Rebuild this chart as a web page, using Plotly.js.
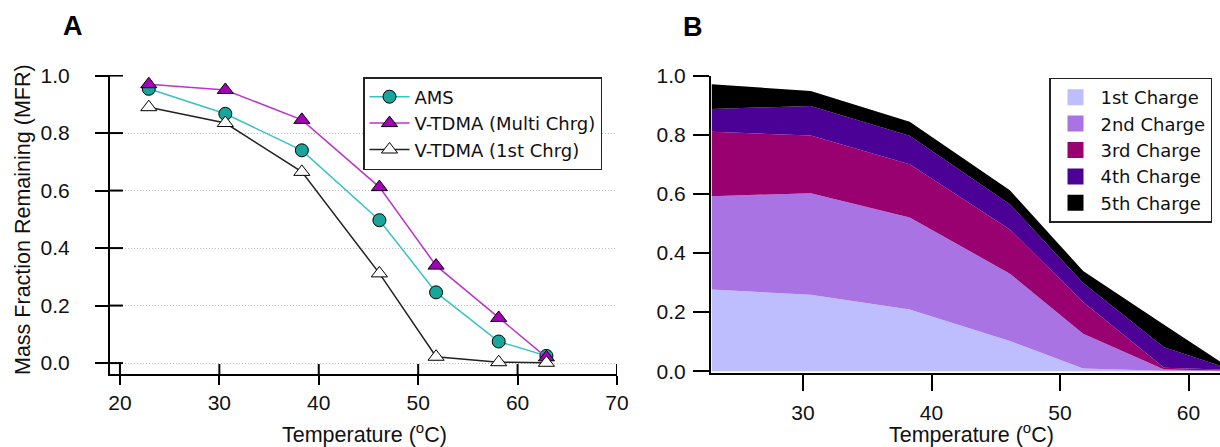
<!DOCTYPE html>
<html>
<head>
<meta charset="utf-8">
<script src="https://cdn.plot.ly/plotly-3.0.1.min.js"></script>
<style>html,body{margin:0;padding:0;background:#fff;}#chart{width:1220px;height:447px;}</style>
</head>
<body>
<div id="chart"></div>
<script>
// ---- Data ----
const tempC = [22.9, 30.6, 38.3, 46.1, 51.8, 58.1, 62.9];
const amsMFR = [0.954, 0.867, 0.740, 0.497, 0.246, 0.075, 0.025];
const vtdmaMulti = [0.970, 0.950, 0.846, 0.612, 0.339, 0.157, 0.020];
const vtdmaFirst = [0.890, 0.835, 0.665, 0.312, 0.022, 0.003, 0.001];

const charge1 = [0.276, 0.259, 0.209, 0.102, 0.009, 0.002, 0.001];
const charge2 = [0.316, 0.343, 0.311, 0.228, 0.118, 0.004, 0.001];
const charge3 = [0.218, 0.195, 0.180, 0.149, 0.107, 0.006, 0.003];
const charge4 = [0.077, 0.100, 0.096, 0.086, 0.064, 0.069, 0.007];
const charge5 = [0.083, 0.051, 0.048, 0.047, 0.041, 0.076, 0.008];

const seriesA = ['AMS', 'V-TDMA (Multi Chrg)', 'V-TDMA (1st Chrg)'];
const chargeNames = ['1st Charge', '2nd Charge', '3rd Charge', '4th Charge', '5th Charge'];
const chargeColors = ['#BEBEFF', '#AA73E3', '#990070', '#4B0096', '#000000'];
const yTicks = [0, 0.2, 0.4, 0.6, 0.8, 1.0];
const xTicksA = [20, 30, 40, 50, 60, 70];
const xTicksB = [30, 40, 50, 60];
const xTitle = 'Temperature (<sup>o</sup>C)';
const yTitle = 'Mass Fraction Remaining (MFR)';

const FONT = 'Liberation Sans, Arial, Helvetica, sans-serif';
const LEGFONT = 'DejaVu Sans, Liberation Sans, Arial, sans-serif';
const W = 1220, H = 447;
const px = v => v / W;
const py = v => 1 - v / H;
const xRangeA = [19, 70];
const yRangeA = [-0.038, 1.002];

const traces = [];
// Panel A
traces.push({
  x: tempC, y: amsMFR, name: seriesA[0], mode: 'lines+markers',
  line: {color: '#38C2C2', width: 1.5},
  marker: {symbol: 'circle', size: 13, color: '#16A69B', line: {color: '#000', width: 1}},
  xaxis: 'x', yaxis: 'y', legend: 'legend'
});
traces.push({
  x: tempC, y: vtdmaMulti, name: seriesA[1], mode: 'lines+markers',
  line: {color: '#BB33CC', width: 1.5},
  marker: {symbol: 'triangle-up', size: 14, color: '#A300B8', line: {color: '#000', width: 1}},
  xaxis: 'x', yaxis: 'y', legend: 'legend'
});
traces.push({
  x: tempC, y: vtdmaFirst, name: seriesA[2], mode: 'lines+markers',
  line: {color: '#222222', width: 1.5},
  marker: {symbol: 'triangle-up', size: 14, color: '#FFFFFF', line: {color: '#000', width: 1}},
  xaxis: 'x', yaxis: 'y', legend: 'legend'
});

// Panel B stacked areas
const charges = [charge1, charge2, charge3, charge4, charge5];
charges.forEach((c, i) => {
  traces.push({
    x: tempC, y: c, name: chargeNames[i], mode: 'none', stackgroup: 'charges',
    fillcolor: chargeColors[i], line: {width: 0}, showlegend: false,
    xaxis: 'x2', yaxis: 'y2', hoverinfo: 'skip'
  });
});
// legend entries (square swatches) for panel B
charges.forEach((c, i) => {
  traces.push({
    x: [null], y: [null], name: chargeNames[i], mode: 'markers',
    marker: {symbol: 'square', size: 16, color: chargeColors[i]},
    xaxis: 'x2', yaxis: 'y2', legend: 'legend2', hoverinfo: 'skip'
  });
});

// inner half of panel A's crossing ticks (axis decoration, sized in pixels)
const tickStyle = {color: '#000', width: 2};
const innerTicks = [].concat(
  xTicksA.map(v => ({type: 'line', xref: 'x', yref: 'paper', x0: v, x1: v,
    y0: py(374), y1: py(364), line: tickStyle, layer: 'above'})),
  yTicks.map(v => ({type: 'line', xref: 'paper', yref: 'y', y0: v, y1: v,
    x0: px(110), x1: px(123), line: tickStyle, layer: 'above'}))
);

const tickFont = {family: FONT, size: 21, color: '#111'};
const baseAxis = {
  showline: true, linecolor: '#000', linewidth: 2, ticks: 'outside', tickcolor: '#000',
  tickwidth: 2, zeroline: false, showgrid: false, tickfont: tickFont, automargin: false
};

const layout = {
  width: W, height: H,
  margin: {l: 0, r: 0, t: 0, b: 0},
  paper_bgcolor: '#fff', plot_bgcolor: 'rgba(0,0,0,0)',
  font: {family: FONT, size: 18, color: '#111'},
  hovermode: false,
  xaxis: Object.assign({}, baseAxis, {
    domain: [px(110), px(617)], range: xRangeA, anchor: 'y',
    tickvals: xTicksA, ticklen: 9, ticklabelstandoff: 0
  }),
  yaxis: Object.assign({}, baseAxis, {
    domain: [py(374), py(75)], range: yRangeA, anchor: 'x',
    tickvals: yTicks, tickformat: '.1f', ticklen: 13, ticklabelstandoff: 21,
    showgrid: true, gridcolor: '#BDBDBD', griddash: '1px,2px', gridwidth: 1
  }),
  xaxis2: Object.assign({}, baseAxis, {
    domain: [px(711), 1], range: [22.84, 62.45], anchor: 'y2',
    tickvals: xTicksB, ticklen: 16, ticklabelstandoff: 4
  }),
  yaxis2: Object.assign({}, baseAxis, {
    domain: [py(373), py(75.5)], range: [-0.006, 1.0], anchor: 'x2',
    tickvals: yTicks, tickformat: '.1f', ticklen: 16, ticklabelstandoff: 3
  }),
  legend: {
    x: px(363), y: py(77), xanchor: 'left', yanchor: 'top',
    bgcolor: '#fff', bordercolor: '#222', borderwidth: 1.5,
    font: {family: LEGFONT, size: 18, color: '#111'}, traceorder: 'normal',
    itemwidth: 40, tracegroupgap: 0
  },
  legend2: {
    x: px(1049), y: py(77.5), xanchor: 'left', yanchor: 'top',
    bgcolor: '#fff', bordercolor: '#222', borderwidth: 1.5,
    font: {family: LEGFONT, size: 18, color: '#111'}, traceorder: 'normal',
    itemwidth: 40, tracegroupgap: 0
  },
  shapes: innerTicks,
  annotations: [
    {text: '<b>A</b>', x: px(72.5), y: py(26), xref: 'paper', yref: 'paper', showarrow: false,
     xanchor: 'center', yanchor: 'middle', font: {family: FONT, size: 27, color: '#000'}},
    {text: '<b>B</b>', x: px(693), y: py(27), xref: 'paper', yref: 'paper', showarrow: false,
     xanchor: 'center', yanchor: 'middle', font: {family: FONT, size: 27, color: '#000'}},
    {text: yTitle, x: px(23), y: py(220), xref: 'paper', yref: 'paper', showarrow: false, textangle: -90,
     xanchor: 'center', yanchor: 'middle', font: {family: FONT, size: 21.5, color: '#111'}},
    {text: xTitle, x: px(364), y: py(433), xref: 'paper', yref: 'paper', showarrow: false,
     xanchor: 'center', yanchor: 'middle', font: {family: FONT, size: 21.5, color: '#111'}},
    {text: xTitle, x: px(971), y: py(433), xref: 'paper', yref: 'paper', showarrow: false,
     xanchor: 'center', yanchor: 'middle', font: {family: FONT, size: 21.5, color: '#111'}}
  ]
};

Plotly.newPlot('chart', traces, layout, {displayModeBar: false, staticPlot: true});
</script>
</body>
</html>
